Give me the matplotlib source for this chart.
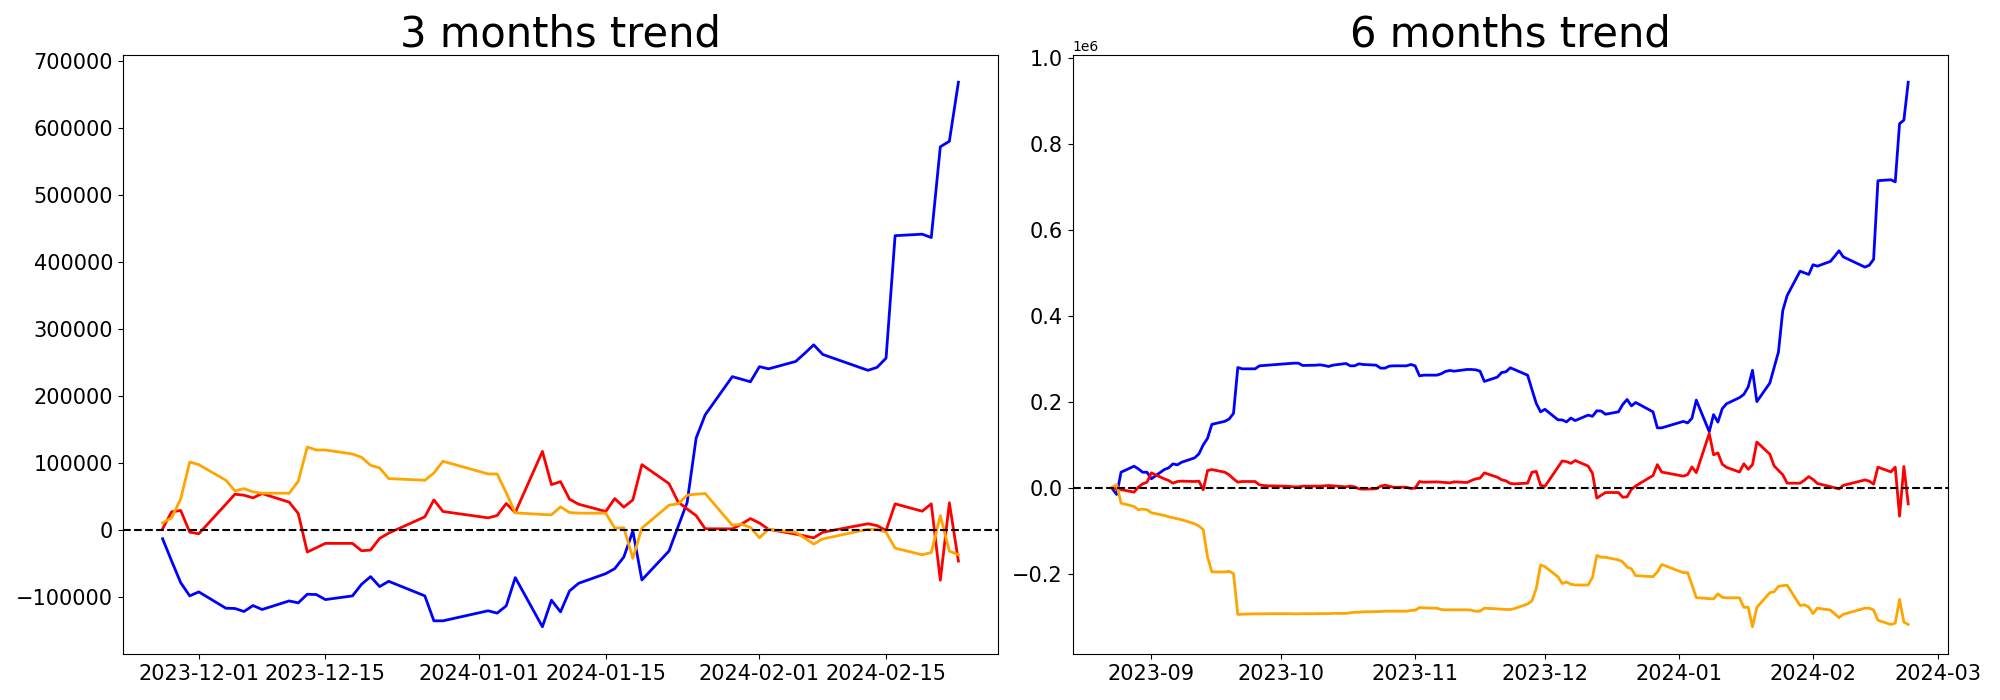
import matplotlib
matplotlib.use("Agg")
import matplotlib.pyplot as plt
import matplotlib.dates as mdates
import pandas as pd

# ---- 3 months window ----
dates_3m = [
    "2023-11-27", "2023-11-28", "2023-11-29", "2023-11-30", "2023-12-01",
    "2023-12-04", "2023-12-05", "2023-12-06", "2023-12-07", "2023-12-08",
    "2023-12-11", "2023-12-12", "2023-12-13", "2023-12-14", "2023-12-15",
    "2023-12-18", "2023-12-19", "2023-12-20", "2023-12-21", "2023-12-22",
    "2023-12-26", "2023-12-27", "2023-12-28",
    "2024-01-02", "2024-01-03", "2024-01-04", "2024-01-05",
    "2024-01-08", "2024-01-09", "2024-01-10", "2024-01-11", "2024-01-12",
    "2024-01-15", "2024-01-16", "2024-01-17", "2024-01-18", "2024-01-19",
    "2024-01-22", "2024-01-23", "2024-01-24", "2024-01-25", "2024-01-26",
    "2024-01-29", "2024-01-30", "2024-01-31", "2024-02-01", "2024-02-02",
    "2024-02-05", "2024-02-06", "2024-02-07", "2024-02-08",
    "2024-02-13", "2024-02-14", "2024-02-15", "2024-02-16",
    "2024-02-19", "2024-02-20", "2024-02-21", "2024-02-22", "2024-02-23",
]
blue_3m = [
    -13000, -46200, -78500, -98300, -92300,
    -116700, -117100, -121600, -112700, -118600,
    -105800, -108700, -95800, -96300, -103800,
    -98300, -81000, -69500, -84400, -76500,
    -98300, -135500, -135500,
    -120500, -124000, -113100, -71000,
    -144400, -104700, -122100, -90900, -79500,
    -65100, -57600, -40300, -1600, -74500,
    -31300, 5000, 41000, 137300, 172000,
    229000, 225200, 221300, 243900, 240600,
    251600, 263700, 276400, 262100,
    238400, 242800, 256600, 439400,
    441600, 436600, 572100, 580300, 668400,
]
red_3m = [
    1900, 27200, 29200, -3100, -5600,
    38600, 53500, 52000, 48000, 54500,
    41600, 24700, -32800, -26400, -19900,
    -19900, -30900, -29900, -12500, -4600,
    19700, 45000, 27700,
    18200, 21700, 39600, 26200,
    117400, 67800, 72300, 46000, 38600,
    27700, 47000, 34100, 45000, 97600,
    69300, 42000, 31500, 21500, 1900,
    1700, 8800, 17100, 10500, 1100,
    -6100, -8800, -11600, -3300,
    9400, 6600, -600, 39100,
    28100, 39100, -74900, 40700, -46300,
]
orange_3m = [
    10800, 18300, 46500, 101500, 97600,
    74300, 58400, 61900, 56900, 55000,
    55000, 72800, 123900, 119500, 119500,
    113500, 108600, 96600, 92700, 76800,
    74300, 85200, 102600,
    83700, 83700, 55500, 25700,
    23200, 22700, 34600, 26200, 25200,
    25200, 2900, 3400, -42200, 2900,
    37100, 39100, 52000, 53500, 54500,
    7200, 8800, 3900, -11600, 1100,
    -3300, -12100, -20900, -13200,
    1100, 1100, -3300, -27000,
    -36900, -33600, 21500, -31400, -36900,
]

# ---- 6 months window ----
dates_6m = [
    "2023-08-23", "2023-08-24", "2023-08-25",
    "2023-08-28", "2023-08-29", "2023-08-30", "2023-08-31", "2023-09-01",
    "2023-09-04", "2023-09-05", "2023-09-06", "2023-09-07", "2023-09-08",
    "2023-09-11", "2023-09-12", "2023-09-13", "2023-09-14", "2023-09-15",
    "2023-09-18", "2023-09-19", "2023-09-20", "2023-09-21", "2023-09-22",
    "2023-09-25", "2023-09-26", "2023-09-27", "2023-09-28", "2023-09-29",
    "2023-10-02", "2023-10-03", "2023-10-04", "2023-10-05", "2023-10-06",
    "2023-10-09", "2023-10-10", "2023-10-11", "2023-10-12", "2023-10-13",
    "2023-10-16", "2023-10-17", "2023-10-18", "2023-10-19", "2023-10-20",
    "2023-10-23", "2023-10-24", "2023-10-25", "2023-10-26", "2023-10-27",
    "2023-10-30", "2023-10-31", "2023-11-01", "2023-11-02", "2023-11-03",
    "2023-11-06", "2023-11-07", "2023-11-08", "2023-11-09", "2023-11-10",
    "2023-11-13", "2023-11-14", "2023-11-15", "2023-11-16", "2023-11-17",
    "2023-11-20", "2023-11-21", "2023-11-22", "2023-11-23", "2023-11-24",
] + dates_3m
blue_6m = [
    -2300, -15500, 36300,
    50300, 44100, 36300, 36300, 20900,
    42500, 46400, 55700, 53400, 59500,
    69600, 78900, 99800, 115200, 147700,
    154700, 160100, 173200, 279900, 276800,
    276800, 283800, 284600, 285300, 286100,
    288400, 289200, 290000, 290000, 284600,
    285300, 286100, 284600, 282300, 285300,
    289200, 283800, 283800, 288400, 286900,
    285300, 278400, 278400, 283000, 283800,
    283800, 286900, 283800, 260600, 262100,
    262100, 265200, 270700, 273000, 271400,
    275300, 275300, 274500, 271400, 247500,
    257500, 268300, 269900, 279200, 275000,
    262000, 228800, 196500, 176700, 182700,
    158300, 157900, 153400, 162300, 156400,
    169200, 166300, 179200, 178700, 171200,
    176700, 194000, 205500, 190600, 198500,
    176700, 139500, 139500,
    154500, 151000, 161900, 204000,
    130600, 170300, 152900, 184100, 195500,
    209900, 217400, 234700, 273400, 200500,
    243700, 280000, 316000, 412300, 447000,
    504000, 500200, 496300, 518900, 515600,
    526600, 538700, 551400, 537100,
    513400, 517800, 531600, 714400,
    716600, 711600, 847100, 855300, 943400,
]
red_6m = [
    0, -2300, -3900,
    -10100, 1500, 9300, 13100, 34800,
    20900, 17000, 10800, 14700, 15500,
    14700, 15500, -4600, 40200, 42500,
    36300, 30200, 20900, 13100, 14700,
    14700, 7000, 5400, 4600, 4600,
    3900, 3100, 2300, 2300, 3900,
    3900, 3900, 4600, 5400, 4600,
    2300, 3900, 2300, -2300, -3100,
    -2300, 3900, 6200, 3900, 1500,
    1500, -1500, -800, 14700, 13100,
    13900, 13100, 12400, 11600, 13900,
    12400, 17000, 20900, 22400, 34800,
    24700, 18600, 16200, 10100, 9300,
    10900, 36200, 38200, 5900, 3400,
    47600, 62500, 61000, 57000, 63500,
    50600, 33700, -23800, -17400, -10900,
    -10900, -21900, -20900, -3500, 4400,
    28700, 54000, 36700,
    27200, 30700, 48600, 35200,
    126400, 76800, 81300, 55000, 47600,
    36700, 56000, 43100, 54000, 106600,
    78300, 51000, 40500, 30500, 10900,
    10700, 17800, 26100, 19500, 10100,
    2900, 200, -2600, 5700,
    18400, 15600, 8400, 48100,
    37100, 48100, -65900, 49700, -37300,
]
orange_6m = [
    1500, 7700, -35600,
    -43300, -51000, -49500, -51000, -58000,
    -64200, -67300, -69600, -71900, -74200,
    -83500, -88900, -97400, -160800, -195600,
    -195600, -194100, -199500, -294600, -293900,
    -293100, -293100, -293100, -292800, -292800,
    -292800, -292800, -293100, -293100, -292800,
    -292800, -292500, -292500, -292500, -292000,
    -292000, -290800, -289200, -289200, -288400,
    -287700, -287700, -286900, -286900, -286900,
    -286900, -285300, -284600, -278400, -279200,
    -279900, -283000, -283800, -283800, -283800,
    -283800, -284600, -286900, -286900, -279900,
    -281500, -282300, -283000, -283000, -280700,
    -270200, -262700, -234500, -179500, -183400,
    -206700, -222600, -219100, -224100, -226000,
    -226000, -208200, -157100, -161500, -161500,
    -167500, -172400, -184400, -188300, -204200,
    -206700, -195800, -178400,
    -197300, -197300, -225500, -255300,
    -257800, -258300, -246400, -254800, -255800,
    -255800, -278100, -277600, -323200, -278100,
    -243900, -241900, -229000, -227500, -226500,
    -273800, -272200, -277100, -292600, -279900,
    -284300, -293100, -301900, -294200,
    -279900, -279900, -284300, -308000,
    -317900, -314600, -259500, -312400, -317900,
]


def draw_trend(ax, dates, blue, red, orange, title):
    x = pd.to_datetime(dates)
    ax.plot(x, blue, color="blue", linewidth=2)
    ax.plot(x, red, color="red", linewidth=2)
    ax.plot(x, orange, color="orange", linewidth=2)
    ax.axhline(0, color="black", linestyle="--", linewidth=1.5)
    ax.set_title(title, fontsize=30)
    ax.tick_params(labelsize=15)


fig, (ax1, ax2) = plt.subplots(1, 2, figsize=(20, 7), dpi=100)
fig.subplots_adjust(left=0.0614, right=0.974, bottom=0.0657, top=0.9214, wspace=0.085)

draw_trend(ax1, dates_3m, blue_3m, red_3m, orange_3m, "3 months trend")
ax1.xaxis.set_major_locator(mdates.DayLocator(bymonthday=[1, 15]))
ax1.xaxis.set_major_formatter(mdates.DateFormatter("%Y-%m-%d"))

draw_trend(ax2, dates_6m, blue_6m, red_6m, orange_6m, "6 months trend")
ax2.xaxis.set_major_locator(mdates.MonthLocator())
ax2.xaxis.set_major_formatter(mdates.DateFormatter("%Y-%m"))

fig.savefig("out.png", dpi=100)
